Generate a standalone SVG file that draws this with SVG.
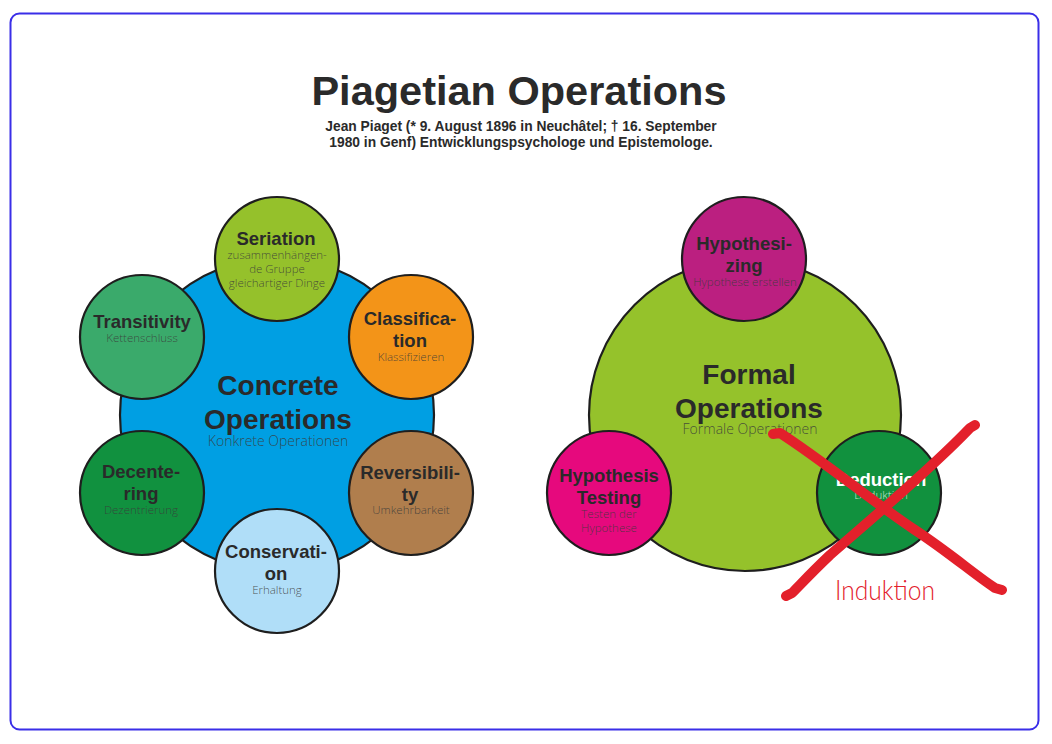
<svg xmlns="http://www.w3.org/2000/svg" width="1052" height="744" viewBox="0 0 1052 744">
<style>
.c{stroke:#1e1e1e;stroke-width:2.2}
.h{font-family:"Liberation Sans",Arial,sans-serif;font-weight:bold;fill:#2a2a2a;text-anchor:middle}
.l{font-size:18.5px}
.s{font-family:"Open Sans","DejaVu Sans",sans-serif;font-weight:300;font-size:11.5px;fill:#3a3a3a;fill-opacity:0.85;text-anchor:middle}
.big{font-size:28px}
.bs{font-size:14px}
.x{fill:none;stroke:#e3202b;stroke-width:10;stroke-linecap:round;stroke-linejoin:round}
</style>
<rect x="0" y="0" width="1052" height="744" fill="#ffffff"/>
<rect x="10.5" y="13.5" width="1028" height="716" rx="9" fill="#ffffff" stroke="#3a2ee8" stroke-width="2"/>
<g id="title">
<text x="519" y="105" class="h" font-size="41.5">Piagetian Operations</text>
<text x="521" y="131" class="h" font-size="13.8">Jean Piaget (* 9. August 1896 in Neuchâtel; † 16. September</text>
<text x="521" y="147" class="h" font-size="13.8">1980 in Genf) Entwicklungspsychologe und Epistemologe.</text>
</g>
<g id="concrete">
<circle cx="277" cy="415" r="157" fill="#009fe3" class="c"/>
<text x="278" y="395" class="h big">Concrete</text>
<text x="278" y="429" class="h big">Operations</text>
<text x="278" y="446" class="s bs">Konkrete Operationen</text>
</g>
<g id="seriation">
<circle cx="277" cy="259" r="62" fill="#95c12b" class="c"/>
<text x="276" y="245" class="h l">Seriation</text>
<text x="277" y="259" class="s">zusammenhängen-</text>
<text x="277" y="273" class="s">de Gruppe</text>
<text x="277" y="287" class="s">gleichartiger Dinge</text>
</g>
<g id="transitivity">
<circle cx="142" cy="337" r="62" fill="#3aaa6b" class="c"/>
<text x="142" y="328" class="h l">Transitivity</text>
<text x="142" y="342" class="s">Kettenschluss</text>
</g>
<g id="classification">
<circle cx="411" cy="337" r="62" fill="#f39418" class="c"/>
<text x="410" y="325" class="h l">Classifica-</text>
<text x="410" y="347" class="h l">tion</text>
<text x="411" y="361" class="s">Klassifizieren</text>
</g>
<g id="decentering">
<circle cx="142" cy="493" r="62" fill="#11913f" class="c"/>
<text x="141" y="478" class="h l">Decente-</text>
<text x="141" y="500" class="h l">ring</text>
<text x="141" y="514" class="s">Dezentrierung</text>
</g>
<g id="reversibility">
<circle cx="411" cy="493" r="62" fill="#b07e4d" class="c"/>
<text x="410" y="479" class="h l">Reversibili-</text>
<text x="410" y="501" class="h l">ty</text>
<text x="411" y="514" class="s">Umkehrbarkeit</text>
</g>
<g id="conservation">
<circle cx="277" cy="571" r="62" fill="#b0def8" class="c"/>
<text x="276" y="558" class="h l">Conservati-</text>
<text x="276" y="580" class="h l">on</text>
<text x="277" y="594" class="s">Erhaltung</text>
</g>
<g id="formal">
<circle cx="745" cy="415" r="156" fill="#95c22b" class="c"/>
<text x="749" y="384" class="h big">Formal</text>
<text x="749" y="418" class="h big">Operations</text>
<text x="750" y="434" class="s bs">Formale Operationen</text>
</g>
<g id="hypothesizing">
<circle cx="744" cy="259" r="62" fill="#bb1f80" class="c"/>
<text x="744" y="250" class="h l">Hypothesi-</text>
<text x="744" y="272" class="h l">zing</text>
<text x="745" y="286" class="s">Hypothese erstellen</text>
</g>
<g id="hypothesis-testing">
<circle cx="609" cy="493" r="62" fill="#e6097d" class="c"/>
<text x="609" y="482" class="h l">Hypothesis</text>
<text x="609" y="504" class="h l">Testing</text>
<text x="609" y="518" class="s">Testen der</text>
<text x="609" y="532" class="s">Hypothese</text>
</g>
<g id="deduction">
<circle cx="879" cy="493" r="62" fill="#11913e" class="c"/>
<text x="881" y="486" class="h l" style="fill:#ffffff">Deduction</text>
<text x="881" y="499" class="s" style="fill:#e8f5ea">Deduktion</text>
</g>
<g id="connectors">
<path class="x" d="M773,434 L780,433 C825,462 870,500 915,530 C950,553 975,575 995,588 L1002,590"/>
<path class="x" d="M975,425 L970,428 C930,470 870,520 830,555 C812,572 800,585 792,593 L786,596"/>
<text x="885" y="600" font-family="Lato,'Open Sans',sans-serif" font-weight="300" font-size="27" fill="#e3202b" text-anchor="middle" textLength="100" lengthAdjust="spacingAndGlyphs">Induktion</text>
</g>
</svg>
